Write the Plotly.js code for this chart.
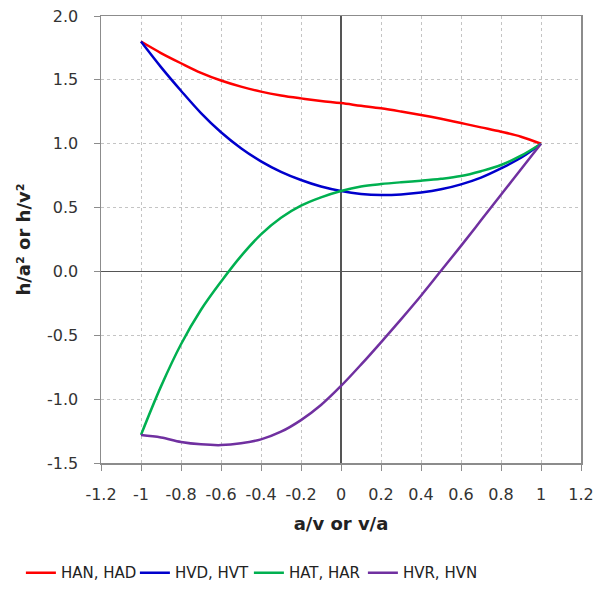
<!DOCTYPE html>
<html>
<head>
<meta charset="utf-8">
<script src="https://cdn.plot.ly/plotly-3.0.1.min.js"></script>
<style>html,body{margin:0;padding:0;background:#fff;}#chart{width:597px;height:590px;}</style>
</head>
<body>
<div id="chart"></div>
<script>
const xVals = [-1, -0.9, -0.8, -0.7, -0.6, -0.5, -0.4, -0.3, -0.2, -0.1, 0, 0.1, 0.2, 0.3, 0.4, 0.5, 0.6, 0.7, 0.8, 0.9, 1];
const hanHad = [1.8, 1.71, 1.63, 1.555, 1.495, 1.447, 1.408, 1.378, 1.355, 1.335, 1.318, 1.297, 1.277, 1.252, 1.225, 1.195, 1.162, 1.128, 1.094, 1.055, 1.0];
const hvdHvt = [1.8, 1.60, 1.415, 1.24, 1.09, 0.965, 0.862, 0.78, 0.716, 0.665, 0.63, 0.607, 0.598, 0.603, 0.618, 0.643, 0.682, 0.735, 0.807, 0.89, 1.0];
const hatHar = [-1.28, -0.90, -0.57, -0.30, -0.08, 0.12, 0.29, 0.42, 0.515, 0.58, 0.63, 0.665, 0.684, 0.698, 0.71, 0.725, 0.747, 0.785, 0.833, 0.906, 1.0];
const hvrHvn = [-1.281, -1.30, -1.335, -1.354, -1.36, -1.346, -1.315, -1.255, -1.164, -1.046, -0.897, -0.73, -0.555, -0.375, -0.19, 0.005, 0.20, 0.40, 0.60, 0.80, 1.0];
const seriesNames = ["HAN, HAD", "HVD, HVT", "HAT, HAR", "HVR, HVN"];
const xTickVals = [-1.2, -1, -0.8, -0.6, -0.4, -0.2, 0, 0.2, 0.4, 0.6, 0.8, 1, 1.2];
const xTickText = ["-1.2", "-1", "-0.8", "-0.6", "-0.4", "-0.2", "0", "0.2", "0.4", "0.6", "0.8", "1", "1.2"];
const yTickVals = [-1.5, -1.0, -0.5, 0.0, 0.5, 1.0, 1.5, 2.0];
const yTickText = ["-1.5", "-1.0", "-0.5", "0.0", "0.5", "1.0", "1.5", "2.0"];

const colors = ["#FF0000", "#0000CC", "#00B050", "#7030A0"];
const ys = [hanHad, hvdHvt, hatHar, hvrHvn];
const traces = ys.map((y, i) => ({
  x: xVals, y: y, name: seriesNames[i], type: 'scatter', mode: 'lines',
  line: {color: colors[i], width: 2.5, shape: 'spline', smoothing: 1}
}));

const fam = 'DejaVu Sans, Arial, sans-serif';
const layout = {
  width: 597, height: 590,
  margin: {l: 101, r: 16, t: 16, b: 127, autoexpand: false},
  paper_bgcolor: '#fff', plot_bgcolor: '#fff',
  font: {family: fam, size: 16, color: '#222'},
  showlegend: true,
  legend: {orientation: 'h', xref: 'container', yref: 'container',
           x: 0.035, xanchor: 'left', y: 0.029, yanchor: 'middle',
           font: {family: fam, size: 15, color: '#222'},
           entrywidth: 69, entrywidthmode: 'pixels', itemwidth: 30},
  xaxis: {
    range: [-1.2, 1.2], tickvals: xTickVals, ticktext: xTickText,
    tickfont: {family: fam, size: 16, color: '#333'},
    showgrid: true, gridcolor: '#c4c4c4', griddash: 'dot', gridwidth: 1,
    zeroline: true, zerolinecolor: '#555', zerolinewidth: 1.5,
    showline: true, linecolor: '#8c8c8c', linewidth: 1.5, mirror: true,
    ticks: 'outside', ticklen: 6, tickcolor: '#8c8c8c', ticklabelstandoff: 10,
    title: {text: '<b>a/v or v/a</b>', font: {family: fam, size: 18, color: '#222'}, standoff: 14}
  },
  yaxis: {
    range: [-1.5, 2.0], tickvals: yTickVals, ticktext: yTickText,
    tickfont: {family: fam, size: 16, color: '#333'},
    showgrid: true, gridcolor: '#c4c4c4', griddash: 'dot', gridwidth: 1,
    zeroline: true, zerolinecolor: '#555', zerolinewidth: 1.5,
    showline: true, linecolor: '#8c8c8c', linewidth: 1.5, mirror: true,
    ticks: 'outside', ticklen: 6, tickcolor: '#8c8c8c', ticklabelstandoff: 12,
    title: {text: '<b>h/a² or h/v²</b>', font: {family: fam, size: 18, color: '#222'}, standoff: 12}
  }
};
Plotly.newPlot('chart', traces, layout, {displayModeBar: false, staticPlot: true});
</script>
</body>
</html>
